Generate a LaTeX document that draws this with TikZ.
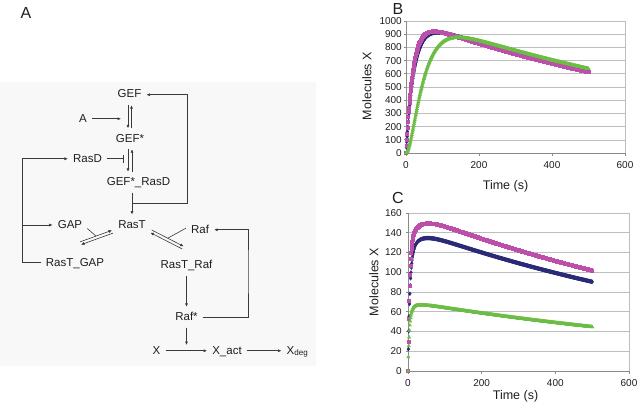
\documentclass[tikz,border=0pt]{standalone}
\usepackage{fontspec}
\setmainfont{Liberation Sans}
\usetikzlibrary{arrows.meta, calc, plotmarks}
\definecolor{lnGray}{HTML}{3A3A3A}
\definecolor{txtDk}{HTML}{1E1E1E}
\definecolor{panelbg}{HTML}{F8F8F8}
\definecolor{gridgray}{HTML}{BEBEBE}
\definecolor{axgray}{HTML}{8A8A8A}
\definecolor{mag}{HTML}{BC4FA9}
\definecolor{navy}{HTML}{2A2A78}
\definecolor{grn}{HTML}{6CBD45}

\begin{document}
\begin{tikzpicture}[x=1pt, y=-1pt, >={Latex[length=3.5pt, width=3pt]},
  sp/.style={text=txtDk, font=\fontsize{11.5}{13}\selectfont,
    text height=8.5pt, text depth=2pt, inner sep=5pt},
  rx/.style={draw=lnGray, line width=0.6pt},
  plabel/.style={text=txtDk, font=\fontsize{16}{18}\selectfont, inner sep=0pt},
  grid/.style={draw=gridgray, line width=0.6pt},
  axis/.style={draw=axgray, line width=0.7pt},
  ytick/.style={text=txtDk, font=\fontsize{10}{12}\selectfont, inner sep=0pt, anchor=east},
  xtick/.style={text=txtDk, font=\fontsize{10}{12}\selectfont, inner sep=0pt, anchor=north, yshift=-8pt},
  atitle/.style={text=txtDk, font=\fontsize{12.5}{14}\selectfont, inner sep=0pt}]

\useasboundingbox (0,0) rectangle (640,404);

% ================= Panel A: reaction scheme =================
\node[plabel] (lblA) at (26,13) {A};
\fill[panelbg] (0,82) rectangle (316,366);

% Species
\node[sp] (gef)     at (129.5,94.75)  {GEF};
\node[sp] (a)       at (83,118.75)    {A};
\node[sp] (gefs)    at (130,138.75)   {GEF*};
\node[sp] (rasd)    at (87.5,158.75)  {RasD};
\node[sp] (gefrasd) at (138.5,182.25) {GEF*\_RasD};
\node[sp] (rast)    at (132,225)      {RasT};
\node[sp] (gap)     at (70,225)       {GAP};
\node[sp] (raf)     at (200,229.75)   {Raf};
\node[sp] (rastgap) at (75,262.75)    {RasT\_GAP};
\node[sp] (rastraf) at (186.5,265.25) {RasT\_Raf};
\node[sp] (rafs)    at (186.5,317.25) {Raf*};
\node[sp] (x)       at (156.5,350.75) {X};
\node[sp] (xact)    at (227,350.75)   {X\_act};
\node[sp] (xdeg)    at (297.5,350.75) {X\textsubscript{deg}};

% Helper points
\coordinate (aTip)    at (121,118.75);
\coordinate (rasdBar) at (124,158.75);
\coordinate (loopL)   at (22,158.75);
\coordinate (fbGef)   at (187,203);
\coordinate (fbRaf)   at (248,270);
\coordinate (catX)    at (186.5,345);
% GAP binding pair
\coordinate (gu1) at (80,241.9);
\coordinate (gu2) at (112,230.3);
\coordinate (gl1) at (113,233.1);
\coordinate (gl2) at (81,244.7);
% Raf binding pair
\coordinate (ru1) at (151.7,230.0);
\coordinate (ru2) at (183.7,246.4);
\coordinate (rl1) at (182.3,249.0);
\coordinate (rl2) at (150.3,232.6);

% --- GEF <-> GEF* (activated by A) ---
\draw[rx, ->] ($(gef.south)+(-1.5,0)$) -- ($(gef.south |- gefs.north)+(-1.5,0)$);
\draw[rx, ->] ($(gef.south |- gefs.north)+(2,0)$) -- ($(gef.south)+(2,0)$);
\draw[rx, ->] (a) -- (aTip);

% --- GEF* <-> GEF*_RasD (RasD inhibits) ---
\draw[rx, ->] ($(gefs.south)+(-2,0)$) -- ($(gefs.south |- gefrasd.north)+(-2,0)$);
\draw[rx, ->] ($(gefs.south |- gefrasd.north)+(2,0)$) -- ($(gefs.south)+(2,0)$);
\draw[rx, -{Bar[width=8pt]}] (rasd) -- (rasdBar);

% --- RasT_GAP feeds RasD and GAP ---
\draw[rx, ->] (rastgap.west) -| (loopL) -- (rasd.west);
\draw[rx, ->] (loopL |- gap) -- (gap.west);

% --- RasT production and feedback to GEF ---
\draw[rx, ->] (gefrasd.south -| rast) -- (rast.north);
\draw[rx, ->] (rast |- fbGef) -- (fbGef) |- (gef.east);

% --- RasT + GAP <-> RasT_GAP ---
\draw[rx, ->] (gu1) -- (gu2);
\draw[rx, ->] (gl1) -- (gl2);
\draw[rx] ($(gap.east)+(0,3.5)$) -- ($(gu1)!0.5!(gu2)$);

% --- RasT + Raf <-> RasT_Raf ---
\draw[rx, ->] (ru1) -- (ru2);
\draw[rx, ->] (rl1) -- (rl2);
\draw[rx] ($(raf.west)+(0,-1.5)$) -- ($(ru1)!0.5!(ru2)$);

% --- Raf* formation, recycling and X activation ---
\draw[rx, ->] (rastraf.south) -- (rastraf.south |- rafs.north);
\draw[rx, ->] (rafs.east) -| (fbRaf) |- (raf.east);
\draw[rx, ->] (rafs.south) -- (catX);
\draw[rx, ->] (x) -- (xact);
\draw[rx, ->] (xact) -- (xdeg);

% ================= Panel B =================
\node[plabel] (lblB) at (398,8.5) {B};
\node[atitle, rotate=90] (ylabB) at (367,86) {Molecules X};
\node[atitle] (xlabB) at (505.5,186) {Time (s)};
\begin{scope}[shift={(406,153)}, x=0.365pt, y=0.132pt]
  \foreach \v in {100,200,...,1000}
    \draw[grid] (0,\v) -- (600,\v);
  \draw[grid] (600,0) -- (600,1000);
  \draw[axis] (0,1000) -- (0,0) -- (600,0);
  \foreach \v in {0,100,...,1000} {
    \draw[axis] (0,\v) -- ++(-2.5pt,0);
    \node[ytick, xshift=-4pt] at (0,\v) {\v};
  }
  \foreach \t in {0,200,400,600} {
    \draw[axis] (\t,0) -- ++(0,-2.5pt);
    \node[xtick] at (\t,0) {\t};
  }
  % series
  \draw[navy] plot[only marks, mark=diamond*, mark size=1.9pt, domain=0:500, samples=501]
    (\x, {1020*(1-exp(-\x/23))*exp(-0.001*\x)});
  \draw[mag] plot[only marks, mark=square*, mark size=1.5pt, domain=0:500, samples=501]
    (\x, {1015*(1-exp(-\x/19))*exp(-0.001*\x)});
  \draw[grn] plot[only marks, mark=triangle*, mark size=1.9pt, domain=0:500, samples=501]
    (\x, {1040*(1-exp(-\x/35))*(1-exp(-\x/35))*exp(-0.00098*\x)});
\end{scope}

% ================= Panel C =================
\node[plabel] (lblC) at (398,198) {C};
\node[atitle, rotate=90] (ylabC) at (374,282) {Molecules X};
\node[atitle] (xlabC) at (515.5,396) {Time (s)};
\begin{scope}[shift={(408,371)}, x=0.3683pt, y=0.9875pt]
  \foreach \v in {20,40,...,160}
    \draw[grid] (0,\v) -- (600,\v);
  \draw[grid] (600,0) -- (600,160);
  \draw[axis] (0,160) -- (0,0) -- (600,0);
  \foreach \v in {0,20,...,160} {
    \draw[axis] (0,\v) -- ++(-2.5pt,0);
    \node[ytick, xshift=-6pt] at (0,\v) {\v};
  }
  \foreach \t in {0,200,400,600} {
    \draw[axis] (\t,0) -- ++(0,-2.5pt);
    \node[xtick] at (\t,0) {\t};
  }
  % series
  \draw[navy] plot[only marks, mark=diamond*, mark size=1.9pt, domain=0:500, samples=501]
    (\x, {145*(1-0.8*exp(-\x/5)-0.2*exp(-\x/25))*exp(-0.00095*\x)});
  \draw[mag] plot[only marks, mark=square*, mark size=1.5pt, domain=0:500, samples=501]
    (\x, {161*(1-0.8*exp(-\x/4)-0.2*exp(-\x/25))*exp(-0.00092*\x)});
  \draw[grn] plot[only marks, mark=triangle*, mark size=1.9pt, domain=0:500, samples=501]
    (\x, {70*(1-0.9*exp(-\x/4)-0.1*exp(-\x/20))*exp(-0.0009*\x)});
\end{scope}

\end{tikzpicture}
\end{document}
